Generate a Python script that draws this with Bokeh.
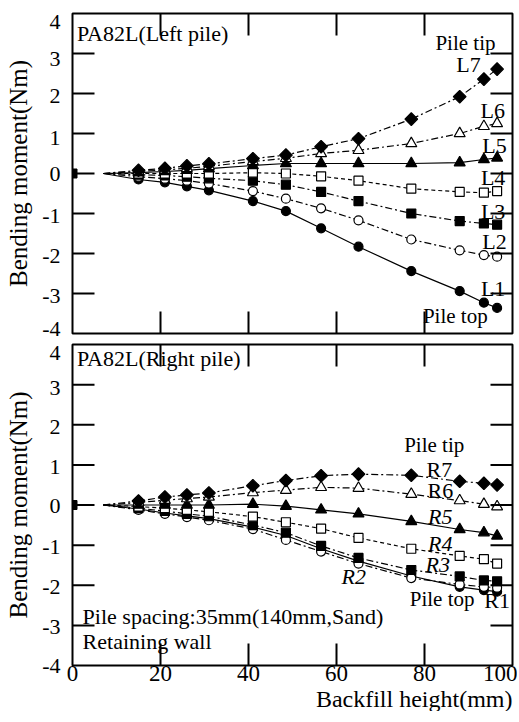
import math
from bokeh.plotting import figure
from bokeh.layouts import column
from bokeh.models import Range1d, Label, FixedTicker, Title
from bokeh.embed import file_html
from bokeh.resources import INLINE

FONT = "Liberation Serif"
TICK_FONT = "'Liberation Serif'"

# ---------------- data ----------------
# backfill heights (mm) at which bending moments were recorded
heights = [15, 21, 26, 31, 41, 48.5, 56.5, 65, 77, 88, 93.5, 96.5]
line_start = [7]          # lines fan out from zero moment at this height
line_start_moment = [0]
origin_height = [0]
origin_moment = [0]

# Left pile bending moment (Nm)
L1 = [-0.15, -0.22, -0.32, -0.42, -0.69, -0.94, -1.37, -1.83, -2.44, -2.94, -3.23, -3.36]
L2 = [-0.08, -0.13, -0.18, -0.25, -0.44, -0.63, -0.87, -1.17, -1.65, -1.92, -2.04, -2.08]
L3 = [-0.03, -0.05, -0.08, -0.12, -0.18, -0.28, -0.46, -0.69, -1.00, -1.19, -1.25, -1.28]
L4 = [0.00, 0.00, 0.00, 0.00, 0.02, 0.00, -0.07, -0.18, -0.38, -0.46, -0.48, -0.44]
L5 = [0.02, 0.05, 0.08, 0.12, 0.20, 0.25, 0.25, 0.25, 0.25, 0.27, 0.35, 0.39]
L6 = [0.05, 0.09, 0.13, 0.18, 0.30, 0.38, 0.50, 0.58, 0.75, 1.00, 1.18, 1.25]
L7 = [0.08, 0.13, 0.19, 0.24, 0.37, 0.46, 0.67, 0.87, 1.36, 1.92, 2.36, 2.61]

# Right pile bending moment (Nm)
R1 = [-0.10, -0.20, -0.27, -0.34, -0.55, -0.76, -1.09, -1.40, -1.77, -2.04, -2.12, -2.16]
R2 = [-0.12, -0.22, -0.30, -0.38, -0.60, -0.87, -1.16, -1.46, -1.82, -1.98, -2.04, -2.06]
R3 = [-0.08, -0.15, -0.22, -0.28, -0.50, -0.69, -1.02, -1.32, -1.62, -1.78, -1.88, -1.90]
R4 = [-0.04, -0.08, -0.12, -0.17, -0.29, -0.43, -0.59, -0.82, -1.09, -1.27, -1.35, -1.46]
R5 = [0.00, 0.00, 0.00, 0.00, 0.02, -0.03, -0.12, -0.22, -0.41, -0.61, -0.69, -0.77]
R6 = [0.06, 0.12, 0.16, 0.20, 0.31, 0.37, 0.44, 0.42, 0.27, 0.11, 0.02, -0.04]
R7 = [0.10, 0.20, 0.25, 0.30, 0.48, 0.61, 0.73, 0.77, 0.74, 0.59, 0.54, 0.50]

x_ticks = [0, 20, 40, 60, 80, 100]
y_ticks = [-4, -3, -2, -1, 0, 1, 2, 3, 4]
y_tick_labels = ["-4", "-3", "-2", "-1", "0", "1", "2", "3", "4"]

# tick labels sit a touch below their ticks (moment units), as in the scan
top_label_shift = [-0.12, 0.05, 0.05, 0.05, 0.02, 0.1, 0.06, 0.14, 0.2]
bot_label_shift = [0.0, 0.04, 0.04, 0.04, 0.02, 0.06, 0.05, 0.08, 0.2]

X_MIN, X_MAX = 0, 100
Y_MIN, Y_MAX = -4, 4
TICK_PX = 22      # inward tick length, screen px
TICK_DX = 2.5     # half tick length along x (mm units)
TICK_DY = 0.275   # half tick length along y (Nm units)

DASHDOT = "7 3 2 3"
styles = [
    dict(marker="circle", fill="black", dash="solid", size=9),
    dict(marker="circle", fill="white", dash=DASHDOT, size=9),
    dict(marker="square", fill="black", dash=DASHDOT, size=9),
    dict(marker="square", fill="white", dash="4 3", size=9),
    dict(marker="triangle", fill="black", dash="solid", size=11),
    dict(marker="triangle", fill="white", dash=DASHDOT, size=11),
    dict(marker="square", fill="black", dash=DASHDOT, size=9, angle=math.pi / 4),
]


def make_panel(series, shifts, is_top):
    p = figure(frame_width=440, frame_height=320 if is_top else 321,
               x_range=Range1d(X_MIN, X_MAX), y_range=Range1d(Y_MIN, Y_MAX),
               output_backend="svg", toolbar_location=None,
               min_border_left=72, min_border_right=5,
               min_border_top=13 if is_top else 4,
               min_border_bottom=7 if is_top else 0,
               background_fill_color="white", border_fill_color="white")
    p.grid.visible = False
    p.outline_line_color = "black"
    p.outline_line_width = 2

    for vals, st in zip(series, styles):
        p.line(line_start + heights, line_start_moment + vals,
               line_color="black", line_width=1.2, line_dash=st["dash"])
    for vals, st in zip(series, styles):
        p.scatter(heights, vals, marker=st["marker"], size=st["size"],
                  angle=st.get("angle", 0.0),
                  fill_color=st["fill"], line_color="black", line_width=1.2)
    p.scatter(origin_height, origin_moment, marker="square", size=9,
              fill_color="black", line_color="black")

    # inward tick marks on all four sides, drawn as dash markers from the tick lists
    yt = y_ticks[1:-1]
    xt = x_ticks[1:-1]
    p.scatter(x=[X_MIN + TICK_DX] * len(yt) + [X_MAX - TICK_DX] * len(yt),
              y=yt + yt, marker="dash", size=TICK_PX,
              line_color="black", line_width=2)
    p.scatter(x=xt + xt,
              y=[Y_MIN + TICK_DY] * len(xt) + [Y_MAX - TICK_DY] * len(xt),
              marker="dash", size=TICK_PX, angle=math.pi / 2,
              line_color="black", line_width=2)

    # left axis: tick labels + title
    yax = p.yaxis[0]
    lab_pos = [t - s for t, s in zip(y_ticks, shifts)]
    yax.ticker = FixedTicker(ticks=lab_pos)
    yax.major_label_overrides = {pos: txt for pos, txt in zip(lab_pos, y_tick_labels)}
    yax.major_tick_in = 0
    yax.major_tick_out = 0
    yax.minor_tick_in = 0
    yax.minor_tick_out = 0
    yax.axis_line_color = None
    yax.major_tick_line_color = None
    yax.minor_tick_line_color = None
    yax.major_label_text_font = TICK_FONT
    yax.major_label_text_font_size = "22px"
    yax.major_label_text_color = "black"
    yax.major_label_standoff = 12
    yax.axis_label = "Bending moment(Nm)"
    yax.axis_label_text_font = FONT
    yax.axis_label_text_font_size = "25px"
    yax.axis_label_text_font_style = "normal"
    yax.axis_label_text_color = "black"
    yax.axis_label_standoff = 7

    xax = p.xaxis[0]
    if is_top:
        xax.visible = False
    else:
        xax.ticker = FixedTicker(ticks=x_ticks)
        xax.major_tick_in = 0
        xax.major_tick_out = 0
        xax.minor_tick_in = 0
        xax.minor_tick_out = 0
        xax.major_tick_line_color = None
        xax.minor_tick_line_color = None
        xax.axis_line_color = None
        xax.major_label_text_font = TICK_FONT
        xax.major_label_text_font_size = "23px"
        xax.major_label_text_color = "black"
        xax.major_label_standoff = 0
        p.add_layout(Title(text="Backfill height(mm)", align="right",
                           text_font=FONT, text_font_size="24px",
                           text_font_style="normal", text_color="black",
                           standoff=0), "below")
    return p


def lab(p, x, y, text, size="22px", align="center", style="normal"):
    p.add_layout(Label(x=x, y=y, text=text, text_font=FONT,
                       text_font_size=size, text_align=align,
                       text_baseline="middle", text_font_style=style,
                       text_color="black"))


top_p = make_panel([L1, L2, L3, L4, L5, L6, L7], top_label_shift, True)
lab(top_p, 1.0, 3.5, "PA82L(Left pile)", align="left")
lab(top_p, 89.3, 3.27, "Pile tip", size="21px")
lab(top_p, 90.0, 2.72, "L7")
lab(top_p, 95.5, 1.58, "L6")
lab(top_p, 95.9, 0.71, "L5")
lab(top_p, 95.6, -0.10, "L4")
lab(top_p, 95.6, -0.96, "L3")
lab(top_p, 95.9, -1.71, "L2")
lab(top_p, 95.6, -2.87, "L1")
lab(top_p, 87.0, -3.57, "Pile top", size="21px")

bot_p = make_panel([R1, R2, R3, R4, R5, R6, R7], bot_label_shift, False)
lab(bot_p, 1.0, 3.65, "PA82L(Right pile)", align="left")
lab(bot_p, 82.2, 1.49, "Pile tip", size="21px")
lab(bot_p, 83.4, 0.89, "R7")
lab(bot_p, 83.6, 0.37, "R6")
lab(bot_p, 83.6, -0.28, "R5", style="italic")
lab(bot_p, 83.6, -0.97, "R4", style="italic")
lab(bot_p, 83.0, -1.49, "R3", style="italic")
lab(bot_p, 63.9, -1.78, "R2", style="italic")
lab(bot_p, 84.0, -2.35, "Pile top", size="21px")
lab(bot_p, 96.5, -2.38, "R1")
lab(bot_p, 2.3, -2.78, "Pile spacing:35mm(140mm,Sand)", align="left")
lab(bot_p, 2.3, -3.39, "Retaining wall", align="left")

layout = column(top_p, bot_p, spacing=0)
open("out.html", "w").write(file_html(layout, INLINE))
